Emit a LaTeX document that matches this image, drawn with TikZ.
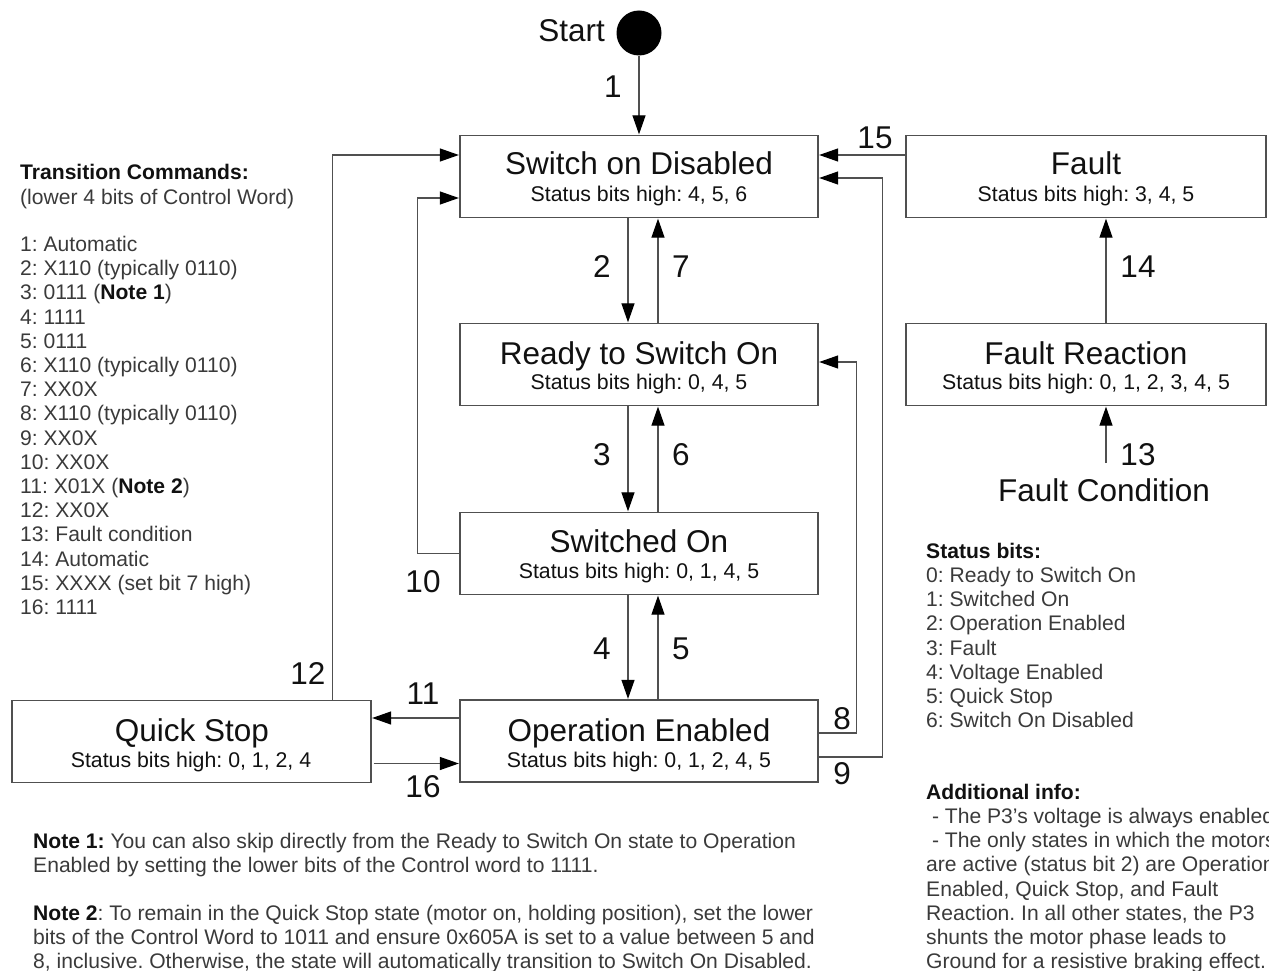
\documentclass[tikz,border=0pt]{standalone}
\usepackage{fontspec}
\setmainfont{Liberation Sans}
\usetikzlibrary{arrows.meta}
\definecolor{ink}{HTML}{111111}
\definecolor{txt}{HTML}{3A3A3A}
\definecolor{edge}{HTML}{505050}
\frenchspacing
\begin{document}
\begin{tikzpicture}[x=1pt,y=-1pt,
  state/.style={draw=edge, line width=1.3pt, minimum width=358pt, minimum height=82pt, inner sep=0pt},
  big/.style={font=\fontsize{31.5}{36}\selectfont, text=ink, inner sep=0pt, anchor=base},
  sub/.style={font=\fontsize{21.3}{24}\selectfont, text=ink, inner sep=0pt, anchor=base},
  lst/.style={font=\fontsize{21.1}{24}\selectfont, text=txt, inner sep=0pt, anchor=base west},
  hd/.style={font=\fontsize{21.1}{24}\selectfont\bfseries, text=ink, inner sep=0pt, anchor=base west},
  arr/.style={draw=edge, line width=1.2pt, -{Triangle[length=19pt,width=13pt,fill=black,color=black]}, shorten >=0.5pt},
]
\useasboundingbox (0,0) rectangle (1269,971);

% start point
\node[big, anchor=base east] (startT) at (605,42) {Start};
\node[circle, fill=black, minimum size=45pt, inner sep=0pt] (start) at (639,33) {};

% states
\node[state] (sod) at (639,176.5) {};
\node[big] (sodT) at (639,175) {Switch on Disabled};
\node[sub] (sodS) at (639,201.5) {Status bits high: 4, 5, 6};

\node[state] (rso) at (639,364.5) {};
\node[big] (rsoT) at (639,364) {Ready to Switch On};
\node[sub] (rsoS) at (639,389.5) {Status bits high: 0, 4, 5};

\node[state] (so) at (639,553.5) {};
\node[big] (soT) at (639,552) {Switched On};
\node[sub] (soS) at (639,578.5) {Status bits high: 0, 1, 4, 5};

\node[state] (oe) at (639,741) {};
\node[big] (oeT) at (639,741) {Operation Enabled};
\node[sub] (oeS) at (639,767) {Status bits high: 0, 1, 2, 4, 5};

\node[state, minimum width=359pt] (qs) at (191.5,741.5) {};
\node[big] (qsT) at (192,741) {Quick Stop};
\node[sub] (qsS) at (191,767) {Status bits high: 0, 1, 2, 4};

\node[state, minimum width=360pt] (fault) at (1086,176.5) {};
\node[big] (faultT) at (1086,175) {Fault};
\node[sub] (faultS) at (1086,201.5) {Status bits high: 3, 4, 5};

\node[state, minimum width=360pt] (fr) at (1086,364.5) {};
\node[big] (frT) at (1086,364) {Fault Reaction};
\node[sub] (frS) at (1086,389.5) {Status bits high: 0, 1, 2, 3, 4, 5};

\node[big] (fcT) at (1104,501) {Fault Condition};
\coordinate (fc) at (1106,463);

% transitions
\draw[arr] (start.south) -- (sod.north);
\draw[arr] ([xshift=-11pt]sod.south) -- ([xshift=-11pt]rso.north);
\draw[arr] ([xshift=19pt]rso.north) -- ([xshift=19pt]sod.south);
\draw[arr] ([xshift=-11pt]rso.south) -- ([xshift=-11pt]so.north);
\draw[arr] ([xshift=19pt]so.north) -- ([xshift=19pt]rso.south);
\draw[arr] ([xshift=-11pt]so.south) -- ([xshift=-11pt]oe.north);
\draw[arr] ([xshift=19pt]oe.north) -- ([xshift=19pt]so.south);

\draw[arr] ([yshift=21.5pt]fault.west) -- ([yshift=21.5pt]sod.east);
\draw[arr] ([yshift=-16pt]oe.east) -- ++(64,0) |- ([yshift=-1.5pt]sod.east);
\draw[arr] ([yshift=8pt]oe.east) -- ++(38,0) |- ([yshift=2.5pt]rso.east);

\draw[arr] ([xshift=141pt]qs.north) |- ([yshift=21.5pt]sod.west);
\draw[arr] (so.west) -- ++(-42,0) |- ([yshift=-21.5pt]sod.west);
\draw[arr] ([yshift=23pt]oe.west) -- ([yshift=23pt]oe.west -| qs.east);
\draw[arr] ([yshift=-22pt,xshift=2pt]qs.east) -- ([yshift=-22pt]qs.east -| oe.west);

\draw[arr] ([xshift=20pt]fr.north) -- ([xshift=20pt]fault.south);
\draw[arr] (fc) -- ([xshift=20pt]fr.south);

% transition numbers
\node[big] (n1) at (613,98) {1};
\node[big] (n2) at (602,277) {2};
\node[big] (n7) at (681,277) {7};
\node[big] (n3) at (602,465) {3};
\node[big] (n6) at (681,465) {6};
\node[big] (n4) at (602,659) {4};
\node[big] (n5) at (681,659) {5};
\node[big] (n15) at (875,149) {15};
\node[big] (n8) at (842,729) {8};
\node[big] (n9) at (842,784) {9};
\node[big] (n14) at (1138,277) {14};
\node[big] (n13) at (1138,465) {13};
\node[big] (n12) at (308,684) {12};
\node[big] (n10) at (423,592) {10};
\node[big] (n11) at (423,704) {11};
\node[big] (n16) at (423,797) {16};

% transition command list
\node[hd] (tcH) at (20,179.5) {Transition Commands:};
\node[lst] (tcS) at (20,204.5) {(lower 4 bits of Control Word)};
\node[lst] (tc1) at (20,251.5) {1: Automatic};
\node[lst] (tc2) at (20,275.7) {2: X110 (typically 0110)};
\node[lst] (tc3) at (20,299.9) {3: 0111 (\textcolor{ink}{\bfseries Note 1})};
\node[lst] (tc4) at (20,324.1) {4: 1111};
\node[lst] (tc5) at (20,348.3) {5: 0111};
\node[lst] (tc6) at (20,372.5) {6: X110 (typically 0110)};
\node[lst] (tc7) at (20,396.7) {7: XX0X};
\node[lst] (tc8) at (20,420.9) {8: X110 (typically 0110)};
\node[lst] (tc9) at (20,445.1) {9: XX0X};
\node[lst] (tc10) at (20,469.3) {10: XX0X};
\node[lst] (tc11) at (20,493.5) {11: X01X (\textcolor{ink}{\bfseries Note 2})};
\node[lst] (tc12) at (20,517.7) {12: XX0X};
\node[lst] (tc13) at (20,541.9) {13: Fault condition};
\node[lst] (tc14) at (20,566.1) {14: Automatic};
\node[lst] (tc15) at (20,590.3) {15: XXXX (set bit 7 high)};
\node[lst] (tc16) at (20,614.5) {16: 1111};

% status bit list
\node[hd] (sbH) at (926,558.5) {Status bits:};
\node[lst] (sb0) at (926,582.5) {0: Ready to Switch On};
\node[lst] (sb1) at (926,606.7) {1: Switched On};
\node[lst] (sb2) at (926,630.9) {2: Operation Enabled};
\node[lst] (sb3) at (926,655.1) {3: Fault};
\node[lst] (sb4) at (926,679.3) {4: Voltage Enabled};
\node[lst] (sb5) at (926,703.5) {5: Quick Stop};
\node[lst] (sb6) at (926,727.7) {6: Switch On Disabled};

% additional info
\node[hd] (aiH) at (926,799.5) {Additional info:};
\node[lst] (ai1) at (926,823.5) {\ - The P3’s voltage is always enabled};
\node[lst] (ai2) at (926,847.7) {\ - The only states in which the motors};
\node[lst] (ai3) at (926,871.9) {are active (status bit 2) are Operation};
\node[lst] (ai4) at (926,896.1) {Enabled, Quick Stop, and Fault};
\node[lst] (ai5) at (926,920.3) {Reaction. In all other states, the P3};
\node[lst] (ai6) at (926,944.5) {shunts the motor phase leads to};
\node[lst] (ai7) at (926,968.7) {Ground for a resistive braking effect.};

% notes
\node[lst] (nt1a) at (33,848.5) {\textcolor{ink}{\bfseries Note 1:} You can also skip directly from the Ready to Switch On state to Operation};
\node[lst] (nt1b) at (33,872.5) {Enabled by setting the lower bits of the Control word to 1111.};
\node[lst] (nt2a) at (33,920.5) {\textcolor{ink}{\bfseries Note 2}: To remain in the Quick Stop state (motor on, holding position), set the lower};
\node[lst] (nt2b) at (33,944.5) {bits of the Control Word to 1011 and ensure 0x605A is set to a value between 5 and};
\node[lst] (nt2c) at (33,968.5) {8, inclusive. Otherwise, the state will automatically transition to Switch On Disabled.};
\end{tikzpicture}
\end{document}
